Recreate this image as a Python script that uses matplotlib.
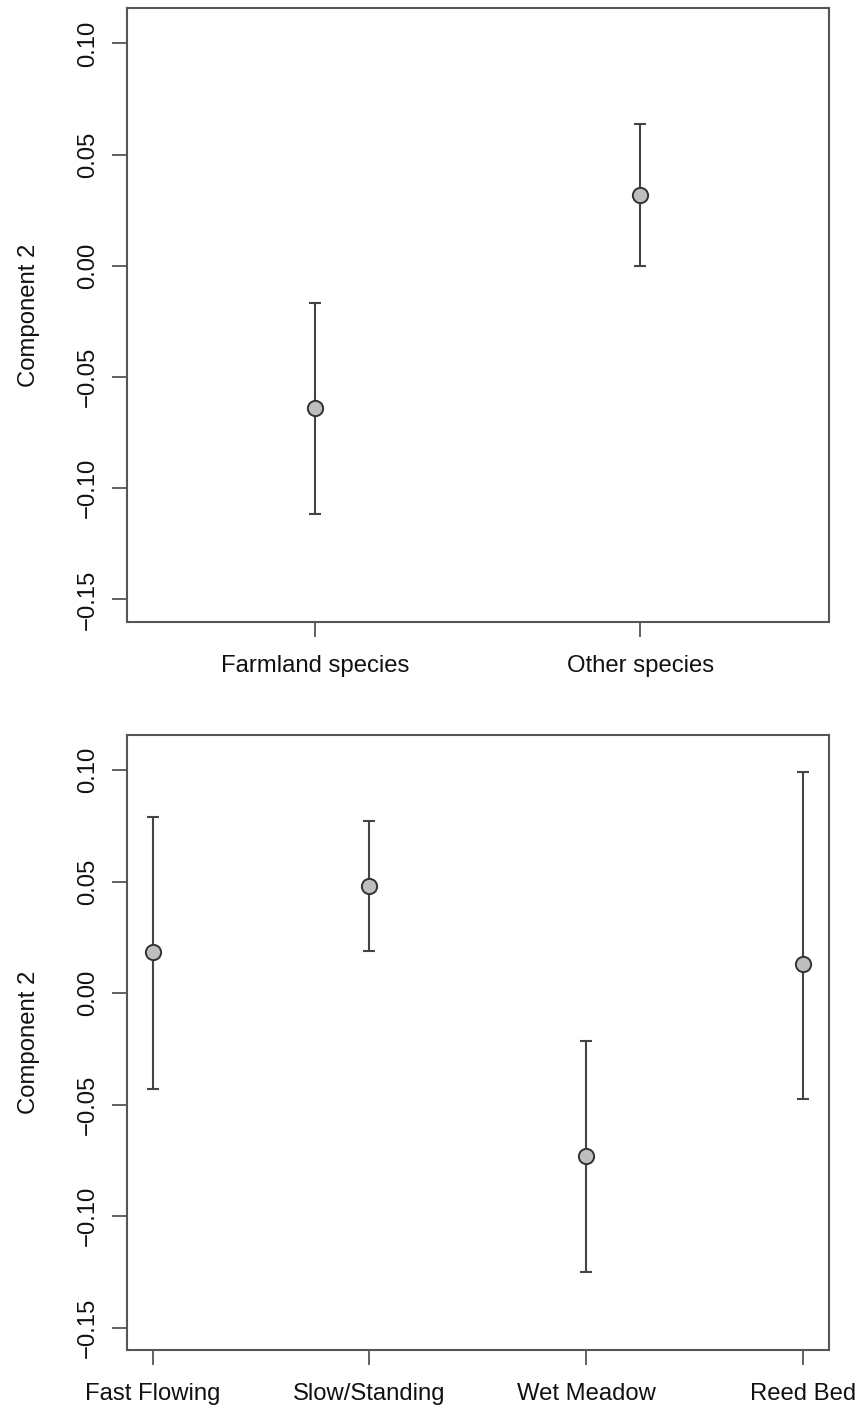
import matplotlib
matplotlib.use("Agg")
import matplotlib.pyplot as plt

plt.rcParams['font.family'] = ['Liberation Sans', 'DejaVu Sans']

# top panel: species groups
species = ["Farmland species", "Other species"]
species_mean = [-0.064, 0.032]
species_low = [-0.1115, 0.0]
species_high = [-0.0168, 0.0636]

# bottom panel: habitat types
habitats = ["Fast Flowing", "Slow/Standing", "Wet Meadow", "Reed Bed"]
habitat_mean = [0.0183, 0.0482, -0.0731, 0.0130]
habitat_low = [-0.0428, 0.0189, -0.1250, -0.0476]
habitat_high = [0.0789, 0.0773, -0.0214, 0.0994]

yticks = [-0.15, -0.10, -0.05, 0.00, 0.05, 0.10]
frame_col = "#555555"
line_col = "#444444"
fs = 17.2

fig = plt.figure(figsize=(8.61, 14.09), dpi=100)
ax_top = fig.add_axes([0.1472, 0.5588, 0.8153, 0.4353])
ax_bot = fig.add_axes([0.1472, 0.0419, 0.8153, 0.4365])


def draw_panel(ax, labels, mean, low, high, xlim):
    x = list(range(1, len(labels) + 1))
    err = [[m - lo for m, lo in zip(mean, low)],
           [hi - m for m, hi in zip(mean, high)]]
    ax.errorbar(x, mean, yerr=err, fmt='none', ecolor=line_col,
                elinewidth=1.5, capsize=4.6, capthick=1.5, zorder=2)
    ax.plot(x, mean, 'o', markersize=11, markerfacecolor="#BEBEBE",
            markeredgecolor="#333333", markeredgewidth=1.4, zorder=3)
    ax.set_xlim(*xlim)
    ax.set_ylim(-0.16, 0.1158)
    ax.set_xticks(x)
    ax.set_xticklabels(labels, fontsize=fs, color="#111111")
    ax.set_yticks(yticks)
    ax.set_yticklabels([f"{v:.2f}".replace("-", "\u2212") for v in yticks],
                       rotation=90, va='center', fontsize=fs, color="#111111")
    ax.tick_params(axis='both', direction='out', length=10.8, width=1.3,
                   color=frame_col)
    ax.tick_params(axis='x', pad=13)
    ax.tick_params(axis='y', pad=9)
    for s in ax.spines.values():
        s.set_color(frame_col)
        s.set_linewidth(1.5)
    ax.set_ylabel("Component 2", fontsize=fs, color="#111111", labelpad=27)


draw_panel(ax_top, species, species_mean, species_low, species_high, (0.42, 2.58))
draw_panel(ax_bot, habitats, habitat_mean, habitat_low, habitat_high, (0.88, 4.12))

fig.savefig("out.png", dpi=100)
